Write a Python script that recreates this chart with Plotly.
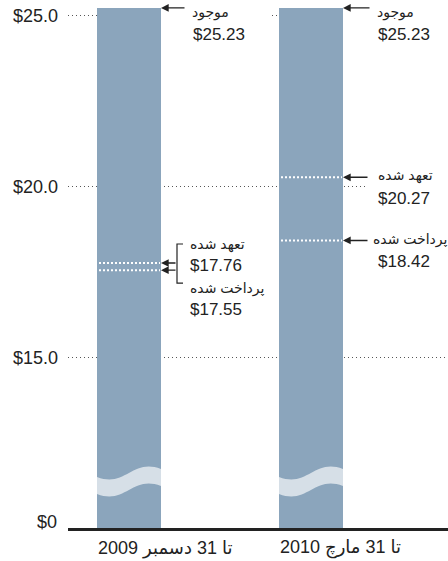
import plotly.graph_objects as go

# ---------------- data ----------------
periods = ["تا 31 دسمبر 2009", "تا 31 مارچ 2010"]
available = [25.23, 25.23]
committed = [17.76, 20.27]
disbursed = [17.55, 18.42]
tick_values = [15, 20, 25]
tick_labels = ["$15.0", "$20.0", "$25.0"]
zero_label = "$0"
label_available = "موجود"
label_committed = "تعهد شده"
label_disbursed = "پرداخت شده"

# ---------------- layout constants ----------------
W, H = 448, 561
ML, MR, MT, MB = 68, 0, 0, 33
PXU = 34.15          # pixels per dollar on the y axis
XPU = 182.0          # pixels per category step
BREAK = 10.0         # axis value where the broken axis shows $0
BARW = 64 / XPU
plot_h = H - MT - MB
plot_w = W - ML - MR
y_top = BREAK + plot_h / PXU
x_lo = -(129 - ML) / XPU
x_hi = x_lo + plot_w / XPU

FONT = "Liberation Sans, Arial, DejaVu Sans, sans-serif"
TXT = "#222222"
BAR = "#8BA5BC"
WAVE = "#D6DFE7"


def dx(px):
    return px / XPU


def dy(px):
    return px / PXU


fig = go.Figure()

fig.add_trace(go.Bar(
    x=[0, 1], y=available, width=BARW,
    marker=dict(color=BAR, line=dict(width=0)),
    hoverinfo="skip",
))

# white dotted markers for committed / disbursed
for i in range(2):
    for v in (committed[i], disbursed[i]):
        fig.add_trace(go.Scatter(
            x=[i - BARW / 2 + dx(2), i + BARW / 2 - dx(1)], y=[v, v], mode="lines",
            line=dict(color="white", width=2, dash="2px,2px"),
            hoverinfo="skip",
        ))

shapes = []
# wavy break on each bar
for i in range(2):
    x0, x1 = i - BARW / 2, i + BARW / 2
    w = x1 - x0
    t = 17
    yL, yC1, yC2, yR = BREAK + dy(51), BREAK + dy(40), BREAK + dy(70), BREAK + dy(59)
    p = (f"M {x0},{yL} C {x0 + .45 * w},{yC1} {x0 + .55 * w},{yC2} {x1},{yR} "
         f"L {x1},{yR - dy(t)} C {x0 + .55 * w},{yC2 - dy(t)} {x0 + .45 * w},{yC1 - dy(t)} {x0},{yL - dy(t)} Z")
    shapes.append(dict(type="path", path=p, xref="x", yref="y",
                       fillcolor=WAVE, line=dict(width=0), layer="above"))

# masks hiding gridlines behind the labels
masks = [
    (0 + BARW / 2, 1 - BARW / 2 - dx(9), 25),
    (1 + BARW / 2, x_hi, 25),
    (1 + BARW / 2 + dx(23), x_hi, 20),
]
for a, b, v in masks:
    shapes.append(dict(type="rect", xref="x", yref="y", x0=a, x1=b,
                       y0=v - dy(3), y1=v + dy(3), fillcolor="white",
                       line=dict(width=0), layer="between"))

# bracket for the first period
xr0 = 0 + BARW / 2
xb = xr0 + dx(16)
btop = committed[0] + dy(19)
bbot = disbursed[0] - dy(13)
fig.add_trace(go.Scatter(
    x=[xb + dx(6), xb, xb, xb + dx(6)], y=[btop, btop, bbot, bbot],
    mode="lines", line=dict(color=TXT, width=1.2), hoverinfo="skip",
))

annotations = []


def arrow(x, y, length):
    annotations.append(dict(
        x=x, y=y, xref="x", yref="y", ax=length, ay=0, text="",
        showarrow=True, arrowhead=2, arrowsize=1.1, arrowwidth=1.4,
        arrowcolor=TXT, standoff=0,
    ))


def label(x, y, text, xshift, yshift, size):
    annotations.append(dict(
        x=x, y=y, xref="x", yref="y", text=text, showarrow=False,
        xanchor="left", yanchor="middle", xshift=xshift, yshift=yshift,
        font=dict(family=FONT, size=size, color=TXT),
    ))


# top "available" labels
for i, xs in ((0, 29), (1, 32)):
    xr = i + BARW / 2
    arrow(xr, available[i], xs - 4)
    label(xr, available[i], label_available, xs, -5, 14)
    label(xr, available[i], f"${available[i]:.2f}", xs + 1, -27, 17)

# first period: bracketed committed/disbursed
arrow(xr0, committed[0], 16)
arrow(xr0, disbursed[0], 16)
label(xr0, committed[0], label_committed, 27, 19, 14)
label(xr0, committed[0], f"${committed[0]:.2f}", 27, -2, 17)
label(xr0, disbursed[0], label_disbursed, 27, -18, 14)
label(xr0, disbursed[0], f"${disbursed[0]:.2f}", 27, -39, 17)

# second period
xr1 = 1 + BARW / 2
arrow(xr1, committed[1], 26)
label(xr1, committed[1], label_committed, 33, 2, 14)
label(xr1, committed[1], f"${committed[1]:.2f}", 33, -21, 17)
arrow(xr1, disbursed[1], 26)
label(xr1, disbursed[1], label_disbursed, 28, 1, 14)
label(xr1, disbursed[1], f"${disbursed[1]:.2f}", 33, -21, 17)

# category labels, aligned with the left edge of each bar
for i, name in enumerate(periods):
    annotations.append(dict(
        x=i - BARW / 2, y=BREAK, xref="x", yref="y", text=name, showarrow=False,
        xanchor="left", yanchor="middle", xshift=-1, yshift=-20,
        font=dict(family=FONT, size=18, color=TXT),
    ))

# $0 label on the broken axis
annotations.append(dict(
    x=0, xref="paper", y=BREAK, yref="y", text=zero_label, showarrow=False,
    xanchor="right", yanchor="middle", xshift=-9, yshift=6,
    font=dict(family=FONT, size=18, color=TXT),
))

fig.update_layout(
    width=W, height=H,
    margin=dict(l=ML, r=MR, t=MT, b=MB, pad=0, autoexpand=False),
    paper_bgcolor="white", plot_bgcolor="white",
    showlegend=False, bargap=0,
    font=dict(family=FONT, color=TXT),
    shapes=shapes, annotations=annotations,
    xaxis=dict(
        range=[x_lo, x_hi], tickvals=[0, 1], ticktext=periods,
        showticklabels=False,
        showgrid=False, zeroline=False, showline=True,
        linecolor=TXT, linewidth=3, ticks="", automargin=False,
        fixedrange=True,
    ),
    yaxis=dict(
        range=[BREAK, y_top], tickvals=tick_values, ticktext=tick_labels,
        showgrid=True, gridcolor="#555555", gridwidth=1, griddash="1px,3px",
        zeroline=False, showline=False, ticks="", automargin=False,
        ticklabelstandoff=9,
        tickfont=dict(family=FONT, size=18, color=TXT),
        fixedrange=True,
    ),
)

fig.write_html(
    "out.html",
    config={"displayModeBar": False},
    post_script="document.body.style.margin='0';document.body.style.overflow='hidden';",
)
